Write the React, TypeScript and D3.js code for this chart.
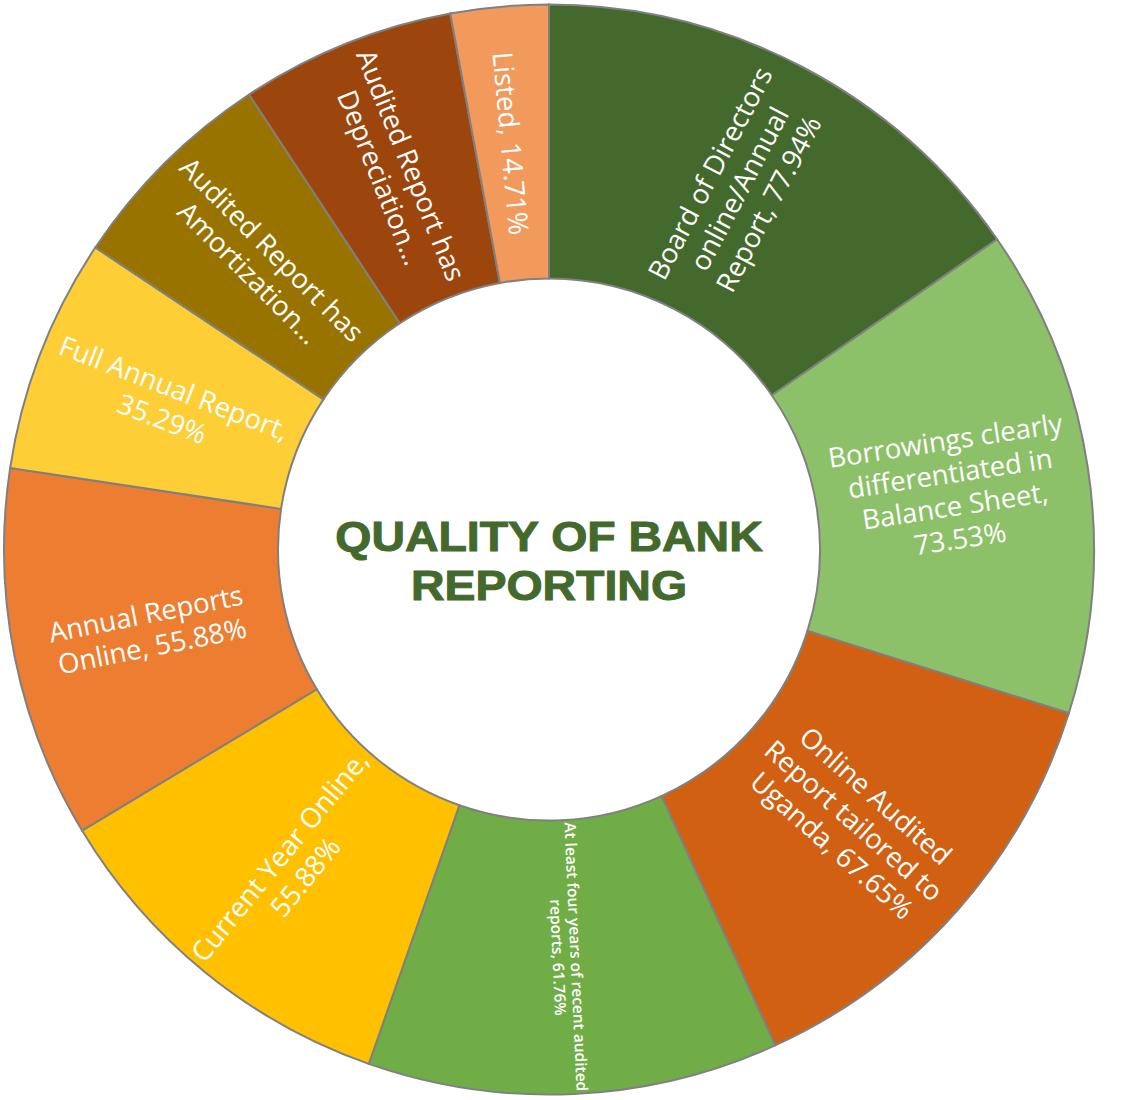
import * as d3 from 'd3';

// slices clockwise from 12 o'clock
const categories = [
  'Board of Directors online/Annual Report',
  'Borrowings clearly differentiated in Balance Sheet',
  'Online Audited Report tailored to Uganda',
  'At least four years of recent audited reports',
  'Current Year Online',
  'Annual Reports Online',
  'Full Annual Report',
  'Audited Report has Amortization',
  'Audited Report has Depreciation',
  'Listed',
];
const values = [77.94, 73.53, 67.65, 61.76, 55.88, 55.88, 35.29, 32.35, 32.35, 14.71];
const labelLines = [
  ['Board of Directors', 'online/Annual', 'Report, 77.94%'],
  ['Borrowings clearly', 'differentiated in', 'Balance Sheet,', '73.53%'],
  ['Online Audited', 'Report tailored to', 'Uganda, 67.65%'],
  ['At least four years of recent audited', 'reports, 61.76%'],
  ['Current Year Online,', '55.88%'],
  ['Annual Reports', 'Online, 55.88%'],
  ['Full Annual Report,', '35.29%'],
  ['Audited Report has', 'Amortization…'],
  ['Audited Report has', 'Depreciation…'],
  ['Listed, 14.71%'],
];
const colors = ['#44692c', '#8dc169', '#d16012', '#70ad47', '#ffc000', '#ed7d31', '#fece36', '#997300', '#9c460d', '#f19a5b'];
const titleLines = ['QUALITY OF BANK', 'REPORTING'];

const width = 1123;
const height = 1100;
const cx = 549;
const cy = 549.5;
const outerR = 545;
const innerR = 271;

export default function App() {
  const pie = d3.pie<number>().sort(null).value(d => d);
  const arcs = pie(values);
  const arc = d3.arc<d3.PieArcDatum<number>>().innerRadius(innerR).outerRadius(outerR);

  return (
    <svg
      width={width}
      height={height}
      style={{ position: 'absolute', left: 0, top: 0, background: '#fff' }}
    >
      <g transform={`translate(${cx},${cy})`}>
        {arcs.map((a, i) => (
          <path key={categories[i]} d={arc(a) || ''} fill={colors[i]} stroke="#808080" strokeWidth={2} />
        ))}

        {/* radial labels, flipped on the left half */}
        {arcs.map((a, i) => {
          const [lx, ly] = arc.centroid(a);
          const mid = ((a.startAngle + a.endAngle) / 2) * 180 / Math.PI;
          const rot = mid <= 180 ? mid - 90 : mid - 270;
          const lines = labelLines[i];
          const small = i === 3;
          const fs = small ? 15.5 : 27.5;
          const lh = small ? 18 : 33;
          const y0 = -((lines.length - 1) * lh) / 2;
          return (
            <text
              key={i}
              transform={`translate(${lx},${ly}) rotate(${rot})`}
              textAnchor="middle"
              dominantBaseline="central"
              fontFamily="'Open Sans', sans-serif"
              fontSize={fs}
              fontWeight={small ? 600 : 400}
              fill="#fff"
            >
              {lines.map((t, j) => (
                <tspan key={j} x={0} y={y0 + j * lh}>{t}</tspan>
              ))}
            </text>
          );
        })}

        <g transform="scale(1.08,1)">
          <text
            textAnchor="middle"
            fontFamily="'Liberation Sans', Arial, sans-serif"
            fontWeight="bold"
            fontSize={43}
            fill="#43692c"
            stroke="#43692c"
            strokeWidth={1}
          >
            {titleLines.map((t, j) => (
              <tspan key={j} x={0} y={1 + j * 50}>{t}</tspan>
            ))}
          </text>
        </g>
      </g>
    </svg>
  );
}
